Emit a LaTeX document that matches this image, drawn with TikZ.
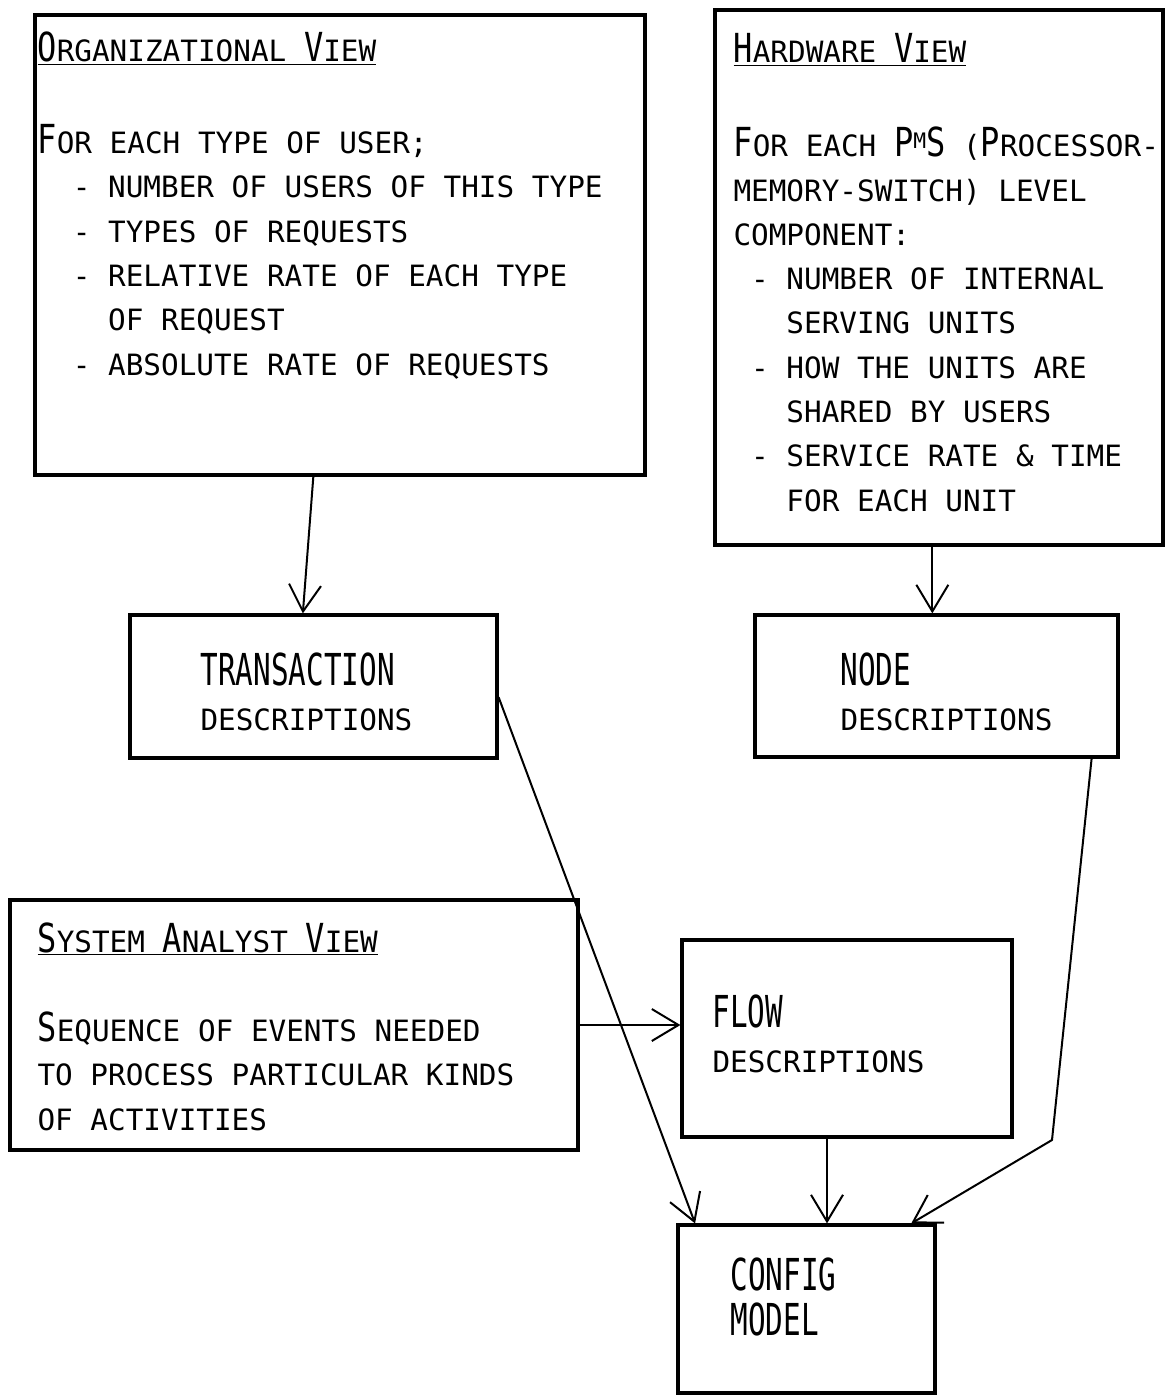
\documentclass[tikz,border=0pt]{standalone}
\usepackage{fontspec}
\usepackage{graphicx}
\usetikzlibrary{arrows.meta,fit,calc}
\newfontfamily\typer{DejaVu Sans Mono}
\newcommand\initial[1]{{\fontsize{30}{33.2}\selectfont\scalebox{0.8}[1]{#1}}}
\newcommand\skipch[1]{\hspace*{#1\fontcharwd\font`\M}}
\newcommand\tall[1]{\scalebox{1}[1.5]{#1}}

\tikzset{every picture/.style={line width=0.75pt}}
\tikzset{
  box/.style={draw, line width=2.4pt, inner sep=0pt},
  txt/.style={anchor=base west, inner sep=0pt, align=left, font=\typer\fontsize{22}{33.2}\selectfont},
  arr/.style={line width=1.5pt, -{Straight Barb[length=20pt,width=24pt]}}
}

\begin{document}
\begin{tikzpicture}[x=0.75pt,y=0.75pt,yscale=-1]
	\useasboundingbox (0,0) rectangle (1167,1395);

	%Shape: Rectangle [org]
	\node [box, fit={(35,15) (645,475)}] (org) {};
	%Shape: Rectangle [hw]
	\node [box, fit={(715,10) (1163,545)}] (hw) {};
	%Shape: Rectangle [trans]
	\node [box, fit={(130,615) (497,758)}] (trans) {};
	%Shape: Rectangle [nodeb]
	\node [box, fit={(755,615) (1118,757)}] (nodeb) {};
	%Shape: Rectangle [sys]
	\node [box, fit={(10,900) (578,1150)}] (sys) {};
	%Shape: Rectangle [flow]
	\node [box, fit={(682,940) (1012,1137)}] (flow) {};
	%Shape: Rectangle [config]
	\node [box, fit={(678,1225) (935,1393)}] (config) {};

	% Text Node (base = last line)
	\node [txt] (orgtitle) at (37,62) {\underline{\initial{O}RGANIZATIONAL \initial{V}IEW}};
	% Text Node
	\node [txt] (orgbody) at (37,375) {\initial{F}OR EACH TYPE OF USER;\\
		\skipch{2}- NUMBER OF USERS OF THIS TYPE\\
		\skipch{2}- TYPES OF REQUESTS\\
		\skipch{2}- RELATIVE RATE OF EACH TYPE\\
		\skipch{4}OF REQUEST\\
		\skipch{2}- ABSOLUTE RATE OF REQUESTS};
	% Text Node
	\node [txt] (hwtitle) at (733,63) {\underline{\initial{H}ARDWARE \initial{V}IEW}};
	% Text Node
	\node [txt] (hwbody) at (733,511) {\initial{F}OR EACH \initial{P}\raisebox{6pt}{\fontsize{16}{16}\selectfont M}\initial{S} (\initial{P}ROCESSOR-\\
		MEMORY-SWITCH) LEVEL\\
		COMPONENT:\\
		\skipch{1}- NUMBER OF INTERNAL\\
		\skipch{3}SERVING UNITS\\
		\skipch{1}- HOW THE UNITS ARE\\
		\skipch{3}SHARED BY USERS\\
		\skipch{1}- SERVICE RATE \& TIME\\
		\skipch{3}FOR EACH UNIT};
	% Text Node
	\node [txt] (transtxt) at (200,730) {\tall{TRANSACTION}\\DESCRIPTIONS};
	% Text Node
	\node [txt] (nodetxt) at (840,730) {\tall{NODE}\\DESCRIPTIONS};
	% Text Node
	\node [txt] (systitle) at (37,952) {\underline{\initial{S}YSTEM \initial{A}NALYST \initial{V}IEW}};
	% Text Node
	\node [txt] (sysbody) at (37,1130) {\initial{S}EQUENCE OF EVENTS NEEDED\\
		TO PROCESS PARTICULAR KINDS\\
		OF ACTIVITIES};
	% Text Node
	\node [txt] (flowtxt) at (712,1072) {\tall{FLOW}\\DESCRIPTIONS};
	% Text Node
	\node [txt] (configtxt) at (730,1335) {\tall{CONFIG}\\\tall{MODEL}};

	%Straight Lines [org to trans]
	\draw [arr] ([xshift=-20pt]org.south) -- ([xshift=-8pt]trans.north);
	%Straight Lines [hw to nodeb]
	\draw [arr] ([xshift=-5pt]hw.south) -- ([xshift=-5pt]hw.south |- nodeb.north);
	%Straight Lines [trans to config]
	\draw [arr] ([yshift=8pt]trans.east) -- ([xshift=14pt]config.north west);
	%Straight Lines [sys to flow]
	\draw [arr] (sys.east) -- (sys.east -| flow.west);
	%Straight Lines [flow to config]
	\draw [arr] ([xshift=-15pt]flow.south) -- ([xshift=-15pt]flow.south |- config.north);
	%Straight Lines [nodeb to config]
	\coordinate (bend) at (1052,1140);
	\draw [arr] ([xshift=-21pt]nodeb.south east) -- (bend) -- ([xshift=-19pt]config.north east);

\end{tikzpicture}
\end{document}
